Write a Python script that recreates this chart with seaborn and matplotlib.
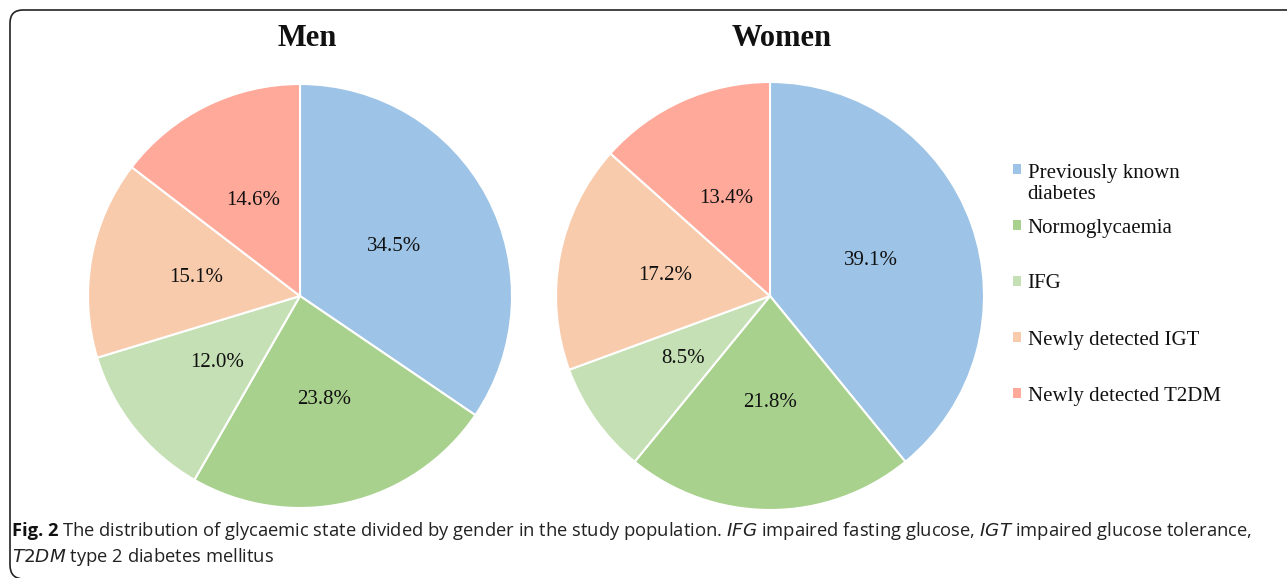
import matplotlib
matplotlib.use("Agg")
import matplotlib.pyplot as plt
import seaborn as sns
from matplotlib.patches import Patch, PathPatch
from matplotlib.path import Path
from matplotlib.transforms import IdentityTransform

categories = ["Previously known\ndiabetes", "Normoglycaemia", "IFG",
              "Newly detected IGT", "Newly detected T2DM"]
men_values = [34.5, 23.8, 12.0, 15.1, 14.6]
women_values = [39.1, 21.8, 8.5, 17.2, 13.4]
colors = ["#9DC3E6", "#A9D18E", "#C5E0B4", "#F8CBAD", "#FFA99A"]

sns.set_theme(style="white")
plt.rcParams['font.family'] = ['Liberation Serif', 'DejaVu Serif']

W, H = 1287, 578
fig = plt.figure(figsize=(W / 100, H / 100), dpi=100)

def add_pie(cx, cy, r, values, title, tx):
    ax = fig.add_axes([(cx - r) / W, (H - cy - r) / H, 2 * r / W, 2 * r / H])
    ax.pie(values, colors=colors, startangle=90, counterclock=False,
           autopct=lambda p: f"{p:.1f}%", pctdistance=0.5,
           wedgeprops=dict(edgecolor="white", linewidth=1.5),
           textprops=dict(fontsize=15, color="#111111"))
    ax.set_aspect("equal")
    ax.set_xlim(-1, 1)
    ax.set_ylim(-1, 1)
    ax.axis("off")
    fig.text(tx / W, 1 - 39 / H, title, ha="center", va="center",
             fontsize=22, fontweight="bold", color="#111111")

add_pie(300, 296, 212, men_values, "Men", 307)
add_pie(770, 296, 214, women_values, "Women", 782)

# legend entries, placed at their own vertical positions
legend_y = [184, 228, 284, 340, 396]
for cat, col, y in zip(categories, colors, legend_y):
    leg = fig.legend([Patch(facecolor=col, edgecolor="none")], [cat],
                     loc="center left", bbox_to_anchor=(1013 / W, 1 - y / H),
                     frameon=False, fontsize=15, handlelength=0.4,
                     handleheight=0.4, handletextpad=0.3,
                     borderpad=0, borderaxespad=0)
    for t in leg.get_texts():
        t.set_color("#111111")
    if "\n" in cat:
        # keep the marker beside the first line of a two-line label
        for col_box in leg._legend_handle_box.get_children():
            for item in col_box.get_children():
                item.align = "top"

# frame: top and left edges with rounded corners (pixel coordinates)
verts = [(24, -1), (10, -1), (10, 13),
         (10, 555), (10, 568), (23, 568),
         (1300, 568)]
codes = [Path.MOVETO, Path.CURVE3, Path.CURVE3,
         Path.LINETO, Path.CURVE3, Path.CURVE3,
         Path.LINETO]
frame = PathPatch(Path(verts, codes), transform=IdentityTransform(),
                  fill=False, edgecolor="#222222", linewidth=1.2)
fig.patches.append(frame)

cap_font = ["Open Sans", "DejaVu Sans"]
fig.text(12 / W, 1 - 531 / H, "Fig. 2", ha="left", va="center",
         fontsize=13.2, fontweight="bold", family=cap_font, color="#111111")
fig.text(62 / W, 1 - 531 / H,
         "The distribution of glycaemic state divided by gender in the study population. "
         "$\\it{IFG}$ impaired fasting glucose, $\\it{IGT}$ impaired glucose tolerance,",
         ha="left", va="center", fontsize=13.2, family=cap_font, color="#222222")
fig.text(12 / W, 1 - 557 / H, "$\\it{T2DM}$ type 2 diabetes mellitus",
         ha="left", va="center", fontsize=13.2, family=cap_font, color="#222222")

fig.savefig("out.png", dpi=100)
